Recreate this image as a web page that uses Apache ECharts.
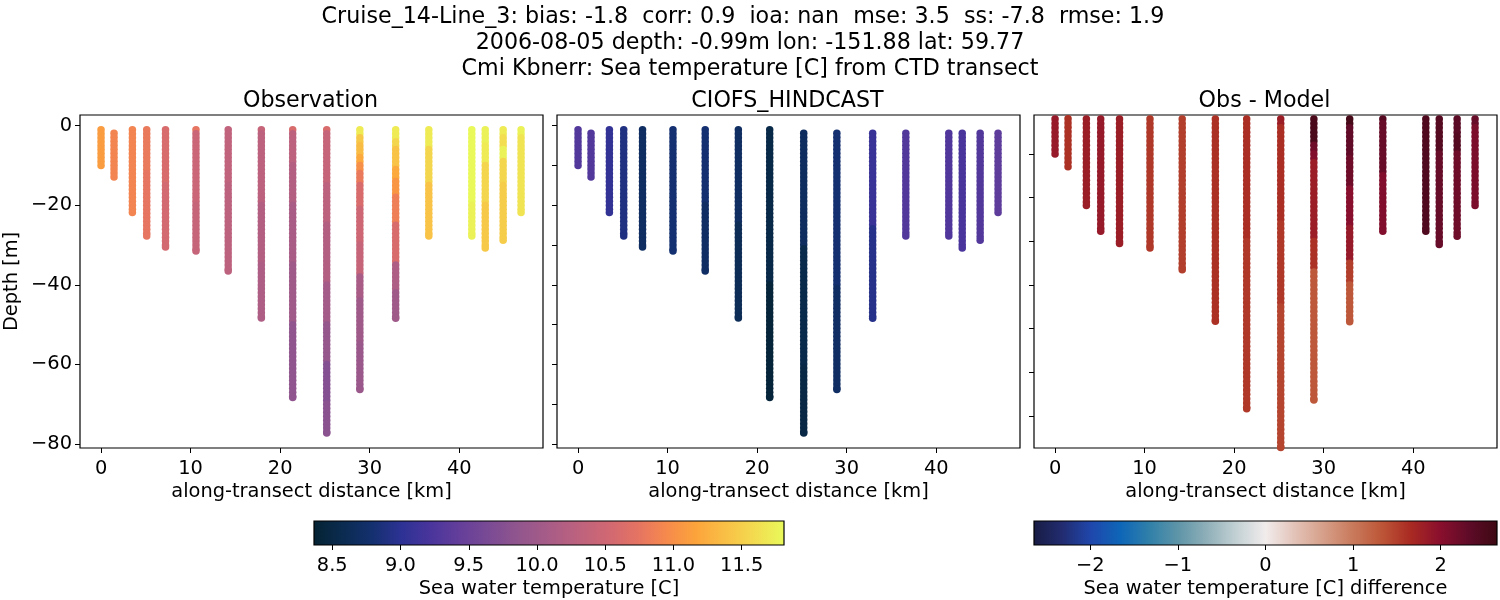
<!DOCTYPE html>
<html><head><meta charset="utf-8">
<style>html,body{margin:0;padding:0;background:#fff}#c{width:1500px;height:600px}</style>
<script src="https://cdn.jsdelivr.net/npm/echarts@6/dist/echarts.min.js"></script>
</head><body><div id="c"></div>
<script>
const headline = "Cruise_14-Line_3: bias: -1.8  corr: 0.9  ioa: nan  mse: 3.5  ss: -7.8  rmse: 1.9  \n2006-08-05 depth: -0.99m lon: -151.88 lat: 59.77\nCmi Kbnerr: Sea temperature [C] from CTD transect";
const panelTitles = ["Observation", "CIOFS_HINDCAST", "Obs - Model"];
const stations = [0, 1.45, 3.5, 5.1, 7.2, 10.6, 14.2, 17.9, 21.4, 25.2, 28.9, 32.9, 36.6, 41.4, 42.9, 44.9, 46.9];
const obsTops = [-1, -1.9, -1, -1, -1, -1, -1, -1, -1, -1, -1, -1, -1, -1, -1, -1, -1];
const modelTops = [-1, -1.9, -1, -1, -1, -1, -1, -1, -1, -1.9, -1.9, -1.9, -1.9, -1.9, -1.9, -1.9, -1.9];
// each station: runs of [bottom depth of the run]
const obsRuns = [
  [[-10, 11.1]], [[-12.9, 10.9]], [[-21.8, 10.9]], [[-12, 10.8], [-27.7, 10.75]], [[-15, 10.6], [-30.5, 10.55]],
  [[-2, 10.75], [-20, 10.45], [-31.5, 10.4]], [[-15, 10.35], [-36.5, 10.3]], [[-2, 10.4], [-20, 10.3], [-35, 10.2], [-48.3, 10.15]],
  [[-2, 10.6], [-10, 10.3], [-20, 10.2], [-35, 10.1], [-50, 10.0], [-68.3, 9.85]],
  [[-2, 10.6], [-15, 10.4], [-25, 10.3], [-40, 10.2], [-50, 10.05], [-60, 9.9], [-70, 9.75], [-77.2, 9.8]],
  [[-2.5, 11.7], [-5, 11.45], [-8, 11.35], [-10, 11.2], [-12, 11.0], [-15, 10.8], [-21, 10.6], [-30, 10.5], [-38, 10.4], [-44, 10.1], [-55, 10.0], [-66.3, 9.95]],
  [[-4, 11.7], [-6, 11.55], [-11, 11.4], [-14, 11.2], [-18, 11.05], [-25, 10.85], [-35, 10.6], [-42, 10.15], [-48.4, 10.0]],
  [[-6, 11.7], [-15, 11.55], [-27.7, 11.4]], [[-20, 11.8], [-27.7, 11.75]],
  [[-5, 11.75], [-10, 11.7], [-20, 11.55], [-30.7, 11.45]], [[-3, 11.7], [-6, 11.6], [-9, 11.75], [-15, 11.55], [-28.8, 11.48]],
  [[-3, 11.75], [-21.8, 11.65]]
];
const modelRuns = [
  [[-10, 9.3]], [[-12.9, 9.3]], [[-21.8, 9.05]], [[-27.7, 8.9]], [[-30.5, 8.7]],
  [[-31.5, 8.8]], [[-20, 8.8], [-36.5, 8.72]], [[-25, 8.7], [-48.3, 8.62]],
  [[-40, 8.52], [-68.3, 8.42]], [[-30, 8.68], [-60, 8.55], [-77.2, 8.5]],
  [[-40, 8.8], [-66.3, 8.72]], [[-25, 9.1], [-48.4, 8.95]],
  [[-27.7, 9.3]], [[-27.7, 9.28]], [[-30.7, 9.22]], [[-28.8, 9.3]], [[-21.8, 9.38]]
];
const diffRuns = [
  [[-10, 1.85]], [[-12.9, 1.6]], [[-21.8, 1.8]], [[-27.7, 1.85]], [[-30.5, 1.8]],
  [[-2, 1.75], [-31.5, 1.55]], [[-36.5, 1.5]], [[-48.3, 1.6]],
  [[-2, 1.75], [-30, 1.62], [-68.3, 1.55]], [[-4, 1.8], [-26, 1.62], [-45, 1.55], [-77.2, 1.45]],
  [[-8, 2.5], [-10, 2.2], [-12, 2.05], [-30, 1.8], [-37, 1.6], [-66.3, 1.3]],
  [[-4, 2.55], [-11, 2.3], [-18, 2.2], [-27, 2.0], [-35, 1.85], [-40, 1.5], [-48.4, 1.3]],
  [[-3, 2.4], [-15, 2.25], [-27.7, 2.05]], [[-27.7, 2.45]], [[-10, 2.4], [-30.7, 2.25]],
  [[-6, 2.35], [-10, 2.4], [-28.8, 2.2]], [[-4, 2.25], [-21.8, 2.1]]
];
const xTicks = [0, 10, 20, 30, 40];
const yTicksLabelled = [0, -20, -40, -60, -80];
const yTicksMiddle = [0, -10, -20, -30, -40, -50, -60, -70, -80];
const yTicksRight = [-10, -20, -30, -40, -50, -60, -70];
const tempTicks = [8.5, 9, 9.5, 10, 10.5, 11, 11.5];
const diffTicks = [-2, -1, 0, 1, 2];
const tempRange = [8.366, 11.81];
const diffRange = [-2.643, 2.643];
const thermal = ["#042333","#0b2b50","#14306f","#2d3294","#4a359c","#653f9a","#7b4b94","#92568d","#a85c87","#bd627e","#d06873","#e57363","#f68a4c","#fca43b","#f9c046","#f3dc50","#e8fa5b"];
const balance = ["#181c43","#222c70","#1f47ac","#0e66b8","#3080a9","#5f95a8","#90b0b9","#c3d1d4","#f1ecec","#e3c3b8","#d69f89","#c97a5c","#bd5638","#a92a22","#8a0f2d","#5f0b28","#3c0912"];

const FONT = "DejaVu Sans", INK = "#000", FS = 19.4;
const minus = v => String(v).replace("-", "\u2212");
function expand(runs, tops) {
  const pts = [];
  runs.forEach((col, i) => {
    let d = tops[i];
    col.forEach(([bottom, val], r) => {
      for (; d > bottom; d -= 1) pts.push([stations[i], d, val]);
      if (r === col.length - 1) pts.push([stations[i], bottom, val]);
    });
  });
  return pts;
}
const lefts = [80, 557, 1034], W = 463, T = 115, H = 333;
const yRanges = [[-81, 2.7], [-81, 2.7], [-77.3, -1.07]];
const yTicks = [yTicksLabelled, yTicksMiddle, yTicksRight];
const seriesData = [expand(obsRuns, obsTops), expand(modelRuns, modelTops), expand(diffRuns, obsTops)];
const grad = cs => ({type:"linear",x:0,y:0,x2:1,y2:0,colorStops:cs.map((c,i)=>({offset:i/(cs.length-1),color:c}))});
const frame = {show:true,borderColor:INK,borderWidth:1.2};
const tick = {show:true,length:5,lineStyle:{color:INK,width:1}};
const noLine = {show:false,onZero:false};
const nameStyle = {fontFamily:FONT,fontSize:FS,color:INK};

const grids = lefts.map(l => ({left:l,top:T,width:W,height:H,...frame,backgroundColor:"#fff"}));
grids.push({left:314,top:521,width:470,height:24,...frame,backgroundColor:grad(thermal)});
grids.push({left:1034,top:521,width:463,height:24,...frame,backgroundColor:grad(balance)});

const xAxes = lefts.map((l,i) => ({
  gridIndex:i,type:"value",position:"bottom",min:-2.35,max:49.35,name:"along-transect distance [km]",nameLocation:"middle",nameGap:34,
  nameTextStyle:nameStyle,splitLine:{show:false},axisLine:noLine,
  axisTick:{...tick,customValues:xTicks},
  axisLabel:{customValues:xTicks,fontFamily:FONT,fontSize:FS,color:INK,margin:11,formatter:minus}
}));
xAxes.push({gridIndex:3,type:"value",position:"bottom",min:tempRange[0],max:tempRange[1],name:"Sea water temperature [C]",nameLocation:"middle",nameGap:34,
  nameTextStyle:nameStyle,splitLine:{show:false},axisLine:noLine,
  axisTick:{...tick,customValues:tempTicks},
  axisLabel:{customValues:tempTicks,fontFamily:FONT,fontSize:FS,color:INK,margin:11,formatter:v=>Number(v).toFixed(1)}});
xAxes.push({gridIndex:4,type:"value",position:"bottom",min:diffRange[0],max:diffRange[1],name:"Sea water temperature [C] difference",nameLocation:"middle",nameGap:34,
  nameTextStyle:nameStyle,splitLine:{show:false},axisLine:noLine,
  axisTick:{...tick,customValues:diffTicks},
  axisLabel:{customValues:diffTicks,fontFamily:FONT,fontSize:FS,color:INK,margin:11,formatter:minus}});

const yAxes = lefts.map((l,i) => ({
  gridIndex:i,type:"value",position:"left",min:yRanges[i][0],max:yRanges[i][1],splitLine:{show:false},axisLine:noLine,
  name:i===0?"Depth [m]":"",nameLocation:"middle",nameGap:59,nameRotate:90,
  nameTextStyle:nameStyle,
  axisTick:{...tick,customValues:yTicks[i]},
  axisLabel:i===0?{customValues:yTicks[i],fontFamily:FONT,fontSize:FS,color:INK,margin:8,padding:[3,0,0,0],formatter:minus}:{show:false}
}));
[3,4].forEach(g => yAxes.push({gridIndex:g,type:"value",min:0,max:1,axisLine:noLine,axisTick:{show:false},axisLabel:{show:false},splitLine:{show:false}}));

const titles = [{text:headline,left:750,top:4,padding:0,textAlign:"center",textStyle:{fontFamily:FONT,fontSize:22.2,fontWeight:"normal",color:INK,lineHeight:26}}];
panelTitles.forEach((t,i)=>titles.push({text:t,left:lefts[i]+W/2-1,top:90,padding:0,textAlign:"center",textStyle:{fontFamily:FONT,fontSize:22.2,fontWeight:"normal",color:INK}}));

const chart = echarts.init(document.getElementById("c"),null,{renderer:"canvas"});
chart.setOption({
  animation:false,backgroundColor:"#fff",title:titles,grid:grids,xAxis:xAxes,yAxis:yAxes,
  visualMap:[
    {show:false,type:"continuous",seriesIndex:[0,1],dimension:2,min:tempRange[0],max:tempRange[1],inRange:{color:thermal}},
    {show:false,type:"continuous",seriesIndex:2,dimension:2,min:diffRange[0],max:diffRange[1],inRange:{color:balance}}
  ],
  series:seriesData.map((d,i)=>({type:"scatter",xAxisIndex:i,yAxisIndex:i,data:d,symbol:"circle",symbolSize:7.5,clip:true,silent:true,itemStyle:{opacity:1}}))
});
</script></body></html>
